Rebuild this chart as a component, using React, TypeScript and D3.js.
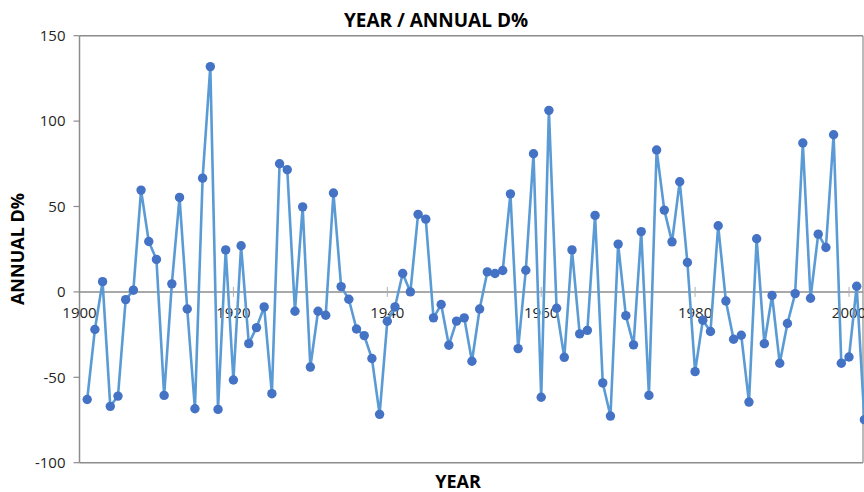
import React from "react";
import * as d3 from "d3";

const startYear = 1901;
const values: number[] = [
  -63, -22, 6, -67, -61, -4.5, 1, 59.6, 29.5, 19,
  -60.6, 4.7, 55.3, -10, -68.4, 66.6, 131.9, -68.8, 24.6, -51.6,
  27, -30.3, -20.9, -8.8, -59.6, 75, 71.5, -11.3, 49.8, -44,
  -11.3, -13.7, 57.9, 3.1, -4.3, -21.7, -25.6, -39, -71.7, -17.2,
  -8.8, 10.8, 0, 45.4, 42.6, -15.2, -7.4, -31.2, -17.1, -15.2,
  -40.6, -10, 11.7, 10.8, 12.5, 57.4, -33.2, 12.7, 80.9, -61.7,
  106.3, -9.6, -38.3, 24.6, -24.6, -22.5, 44.8, -53.3, -72.7, 28,
  -13.9, -31, 35.3, -60.6, 83.1, 47.9, 29.3, 64.5, 17.2, -46.7,
  -16.6, -23.2, 38.7, -5.3, -27.7, -25.4, -64.5, 31.1, -30.3, -2.1,
  -41.8, -18.5, -1, 87.2, -3.7, 33.8, 26, 92, -41.8, -38.1,
  3.3, -74.8,
];
const years: number[] = values.map((_, i) => startYear + i);
const yTicks: number[] = [-100, -50, 0, 50, 100, 150];
const xTicks: number[] = [1900, 1920, 1940, 1960, 1980, 2000];

const W = 864;
const H = 492;

export default function App() {
  const x = d3.scaleLinear().domain([1900, 2000]).range([79.5, 849]);
  const y = d3.scaleLinear().domain([-100, 150]).range([462.7, 35.7]);
  const line = d3
    .line<number>()
    .x((_, i) => x(years[i]))
    .y((d) => y(d));
  const left = 79.5;
  const right = 863;
  const top = y(150);
  const bottom = y(-100);
  const axisColor = "#8c8c8c";
  const labelFont = "'Open Sans', 'Liberation Sans', sans-serif";
  const titleFont = "'Liberation Sans Narrow', 'Open Sans', sans-serif";
  return (
    <svg
      width={W}
      height={H}
      viewBox={`0 0 ${W} ${H}`}
      style={{ position: "absolute", left: 0, top: 0, background: "#fff" }}
    >
      <defs>
        <clipPath id="plotclip">
          <rect x={0} y={0} width={W} height={H} />
        </clipPath>
      </defs>
      <rect x={0} y={0} width={W} height={H} fill="#fff" />
      {/* plot frame */}
      <line x1={left} x2={right} y1={top} y2={top} stroke={axisColor} strokeWidth={1.5} />
      <line x1={left} x2={right} y1={bottom} y2={bottom} stroke={axisColor} strokeWidth={1.5} />
      <line x1={right} x2={right} y1={top} y2={bottom} stroke={axisColor} strokeWidth={1.2} />
      <line x1={left} x2={left} y1={top} y2={bottom} stroke={axisColor} strokeWidth={1.5} />
      {/* y ticks */}
      {yTicks.map((t) => (
        <g key={t}>
          <line x1={left - 6} x2={left} y1={y(t)} y2={y(t)} stroke={axisColor} strokeWidth={1.2} />
          <text
            x={left - 14}
            y={y(t)}
            dy="0.35em"
            textAnchor="end"
            fontFamily={labelFont}
            fontSize={15}
            fill="#262626"
          >
            {t}
          </text>
        </g>
      ))}
      {/* zero axis */}
      <line x1={left} x2={right} y1={y(0)} y2={y(0)} stroke={axisColor} strokeWidth={1.5} />
      {xTicks.map((t) => (
        <g key={t}>
          {t !== 1900 && (
            <line x1={x(t)} x2={x(t)} y1={y(0) - 5} y2={y(0) + 5} stroke="#b0b0b0" strokeWidth={1} />
          )}
          <text
            x={x(t)}
            y={y(0) + 26}
            textAnchor="middle"
            fontFamily={labelFont}
            fontSize={15}
            fill="#262626"
          >
            {t}
          </text>
        </g>
      ))}
      {/* series */}
      <g clipPath="url(#plotclip)">
        <path d={line(values) || ""} fill="none" stroke="#5b9bd5" strokeWidth={2.6} strokeLinejoin="round" />
        {values.map((v, i) => (
          <circle key={i} cx={x(years[i])} cy={y(v)} r={4.7} fill="#4472c4" />
        ))}
      </g>
      {/* titles */}
      <text
        x={436}
        y={27}
        textAnchor="middle"
        fontFamily={titleFont}
        fontWeight="bold"
        fontSize={19}
        fill="#000"
      >
        YEAR / ANNUAL D%
      </text>
      <text
        x={458}
        y={488}
        textAnchor="middle"
        fontFamily={titleFont}
        fontWeight="bold"
        fontSize={18}
        fill="#000"
      >
        YEAR
      </text>
      <text
        transform={`translate(24, 249) rotate(-90)`}
        textAnchor="middle"
        fontFamily={titleFont}
        fontWeight="bold"
        fontSize={18}
        fill="#000"
      >
        ANNUAL D%
      </text>
    </svg>
  );
}
